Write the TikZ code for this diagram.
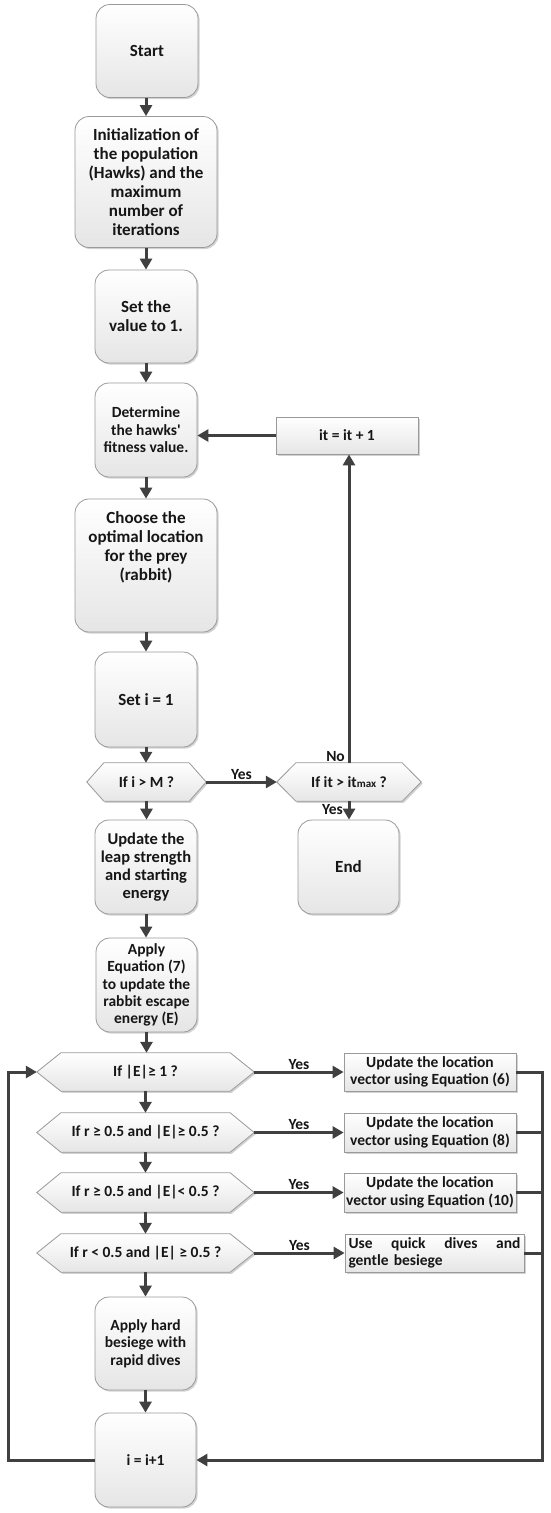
\documentclass[tikz,border=0pt]{standalone}
\usepackage{fontspec}
\setmainfont{Carlito}[Ligatures=TeXOff]
\usetikzlibrary{arrows.meta,shadows,backgrounds,calc}
\definecolor{arrc}{HTML}{404040}
\definecolor{bord}{HTML}{9A9A9A}
\definecolor{txt}{HTML}{161616}
\newcommand\hexpath[2]{\draw[hexs] (#1.west) -- ([xshift=#2]#1.north west) -- ([xshift=-#2]#1.north east) -- (#1.east) -- ([xshift=-#2]#1.south east) -- ([xshift=#2]#1.south west) -- cycle;}
\begin{document}
\begin{tikzpicture}[x=1pt,y=-1pt,
  shad/.style={drop shadow={shadow xshift=1.6pt,shadow yshift=-1.6pt,opacity=0.35,fill=gray}},
  box/.style={draw=bord, line width=0.8pt, rounded corners=14pt, top color=white, bottom color=gray!20, shad, align=center, text=txt, inner sep=2pt, font=\bfseries\fontsize{17}{19}\selectfont},
  sbox/.style={box, font=\bfseries\fontsize{15.5}{17.4}\selectfont},
  rbox/.style={box, rounded corners=0pt, font=\bfseries\fontsize{15.5}{17.4}\selectfont},
  hexn/.style={draw=none, fill=none, inner sep=0pt, align=center, text=txt, font=\bfseries\fontsize{15.5}{17.4}\selectfont},
  hexs/.style={draw=bord, line width=0.8pt, top color=white, bottom color=gray!20, shad},
  arr/.style={draw=arrc, line width=3pt, line join=miter, -{Triangle[length=11pt,width=12pt]}},
  ln/.style={draw=arrc, line width=3pt, line join=miter},
  lab/.style={text=txt, inner sep=1pt, font=\bfseries\fontsize{15.5}{17}\selectfont}
]
\useasboundingbox (0,0) rectangle (550,1513);

% main column
\node[box, minimum width=102pt, minimum height=93pt] (start) at (147,51) {Start};
\node[box, minimum width=142pt, minimum height=131pt] (init) at (146,182) {Initialization of\\the population\\(Hawks) and the\\maximum\\number of\\iterations};
\node[box, minimum width=102pt, minimum height=93pt] (setv) at (146,316.5) {Set the\\value to 1.};
\node[sbox, minimum width=102pt, minimum height=94pt] (det) at (146,430) {Determine\\the hawks'\\fitness value.};
\node[box, minimum width=142pt, minimum height=133pt] (choose) at (146,565.5) {Choose the\\optimal location\\for the prey\\(rabbit)\\[19pt]};
\node[box, minimum width=102pt, minimum height=95pt] (seti) at (146,699.5) {Set i = 1};
\node[hexn, minimum width=119pt, minimum height=38pt] (ifm) at (146.5,782) {If i > M ?};
\node[hexn, minimum width=144pt, minimum height=38pt] (ifit) at (349,782) {If it > it{\fontsize{11}{11}\selectfont max} ?};
\node[rbox, minimum width=142pt, minimum height=37pt] (itb) at (347,435.5) {it = it + 1};
\node[box, minimum width=101pt, minimum height=94pt] (endb) at (348.5,867) {End};
\node[sbox, minimum width=102pt, minimum height=94pt, font=\bfseries\fontsize{16.5}{17.8}\selectfont] (leap) at (146,867) {Update the\\leap strength\\and starting\\energy};
\node[sbox, minimum width=101pt, minimum height=94pt] (apply) at (146.5,985) {Apply\\Equation (7)\\to update the\\rabbit escape\\energy (E)};

% decisions
\node[hexn, minimum width=217pt, minimum height=38pt] (d1) at (145.5,1072) {If |E|≥ 1 ?};
\node[hexn, minimum width=217pt, minimum height=39pt] (d2) at (145.5,1132.5) {If r ≥ 0.5 and |E|≥ 0.5 ?};
\node[hexn, minimum width=217pt, minimum height=39pt] (d3) at (145.5,1192.5) {If r ≥ 0.5 and |E|< 0.5 ?};
\node[hexn, minimum width=217pt, minimum height=38pt] (d4) at (145.5,1253) {If r < 0.5 and |E| ≥ 0.5 ?};

\node[rbox, minimum width=172pt, minimum height=38pt] (b1) at (430,1072) {Update the location\\vector using Equation (6)};
\node[rbox, minimum width=172pt, minimum height=39pt] (b2) at (430,1132.5) {Update the location\\vector using Equation (8)};
\node[rbox, minimum width=172pt, minimum height=39pt] (b3) at (430,1192.5) {Update the location\\vector using Equation (10)};
\node[rbox, minimum width=179pt, minimum height=38pt, text width=172pt, align=left, inner sep=3pt] (b4) at (434.5,1253) {Use\hfill quick\hfill dives\hfill and\\gentle besiege};

\node[sbox, minimum width=101pt, minimum height=93pt] (hard) at (145.5,1343.5) {Apply hard\\besiege with\\rapid dives};
\node[sbox, minimum width=101pt, minimum height=94pt] (inc) at (145.5,1460) {i = i+1};

\begin{scope}[on background layer]
\fill[white] (0,0) rectangle (550,1513);
\hexpath{ifm}{17pt}
\hexpath{ifit}{19pt}
\hexpath{d1}{24pt}
\hexpath{d2}{24pt}
\hexpath{d3}{24pt}
\hexpath{d4}{24pt}
\end{scope}

\coordinate (rr) at (542,1072);
\coordinate (ll) at (8,1072);

% vertical arrows
\draw[arr] (init.north |- start.south) -- (init.north);
\draw[arr] (init.south) -- (init.south |- setv.north);
\draw[arr] (setv.south) -- (setv.south |- det.north);
\draw[arr] (det.south) -- (det.south |- choose.north);
\draw[arr] (choose.south) -- (choose.south |- seti.north);
\draw[arr] (seti.south) -- (seti.south |- ifm.north);
\draw[arr] (ifm.south) -- (ifm.south |- leap.north);
\draw[arr] (leap.south) -- (leap.south |- apply.north);
\draw[arr] (apply.south) -- (apply.south |- d1.north);
\draw[arr] (d1.south) -- (d1.south |- d2.north);
\draw[arr] (d2.south) -- (d2.south |- d3.north);
\draw[arr] (d3.south) -- (d3.south |- d4.north);
\draw[arr] (d4.south) -- (d4.south |- hard.north);
\draw[arr] (hard.south) -- (hard.south |- inc.north);

% iteration loop
\draw[arr] (ifm.east) -- node[lab, above] {Yes} (ifit.west);
\draw[arr] (ifit.north) -- (ifit.north |- itb.south);
\node[lab, anchor=south east] (nolab) at ([xshift=-3pt]ifit.north) {No};
\draw[arr] (itb.west) -- (itb.west -| det.east);
\draw[arr] (ifit.south) -- (ifit.south |- endb.north);
\node[lab, anchor=north east] (yeslab) at ([xshift=-5pt,yshift=-2pt]ifit.south) {Yes};

% decision branches
\draw[arr] (d1.east) -- node[lab, above] {Yes} (b1.west);
\draw[arr] (d2.east) -- node[lab, above] {Yes} (b2.west);
\draw[arr] (d3.east) -- node[lab, above] {Yes} (b3.west);
\draw[arr] (d4.east) -- node[lab, above] {Yes} (b4.west);

% right return
\draw[arr] (b1.east) -- (b1.east -| rr) -- (rr |- inc.east) -- (inc.east);
\draw[ln] (b2.east) -- (b2.east -| rr);
\draw[ln] (b3.east) -- (b3.east -| rr);
\draw[ln] (b4.east) -- (b4.east -| rr);

% left return
\draw[arr] (inc.west) -- (inc.west -| ll) -- (ll |- d1.west) -- (d1.west);
\end{tikzpicture}
\end{document}
